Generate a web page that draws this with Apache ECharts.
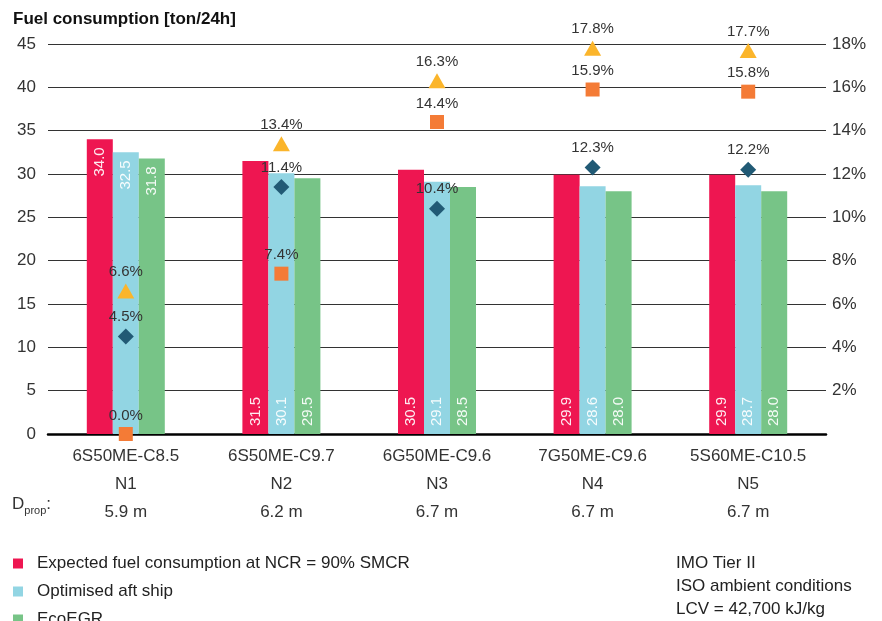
<!DOCTYPE html>
<html>
<head>
<meta charset="utf-8">
<script src="https://cdn.jsdelivr.net/npm/echarts@6/dist/echarts.min.js"></script>
<style>
  html, body { margin: 0; padding: 0; background: #fff; }
  #main { width: 882px; height: 621px; }
</style>
</head>
<body>
<div id="main"></div>
<script>
// engines and propeller diameters
var engines = ['6S50ME-C8.5', '6S50ME-C9.7', '6G50ME-C9.6', '7G50ME-C9.6', '5S60ME-C10.5'];
var nodes = ['N1', 'N2', 'N3', 'N4', 'N5'];
var dprop = ['5.9 m', '6.2 m', '6.7 m', '6.7 m', '6.7 m'];

// fuel consumption, ton/24h
var expected = [34.0, 31.5, 30.5, 29.9, 29.9];
var optimised = [32.5, 30.1, 29.1, 28.6, 28.7];
var ecoegr = [31.8, 29.5, 28.5, 28.0, 28.0];

// reductions, % (right axis)
var redTriangle = [6.6, 13.4, 16.3, 17.8, 17.7];
var redSquare = [0.0, 7.4, 14.4, 15.9, 15.8];
var redDiamond = [4.5, 11.4, 10.4, 12.3, 12.2];

var legendNames = ['Expected fuel consumption at NCR = 90% SMCR', 'Optimised aft ship', 'EcoEGR'];

var FONT = 'Liberation Sans, Arial, sans-serif';
var categories = engines.map(function (e, i) { return e + '\n' + nodes[i] + '\n' + dprop[i]; });

// first group has its values at the top of the bar, the rest at the bottom
function barData(arr) {
    return arr.map(function (v, i) {
        if (i === 0) {
            return { value: v, label: { position: 'insideTop', align: 'right', distance: 8 } };
        }
        return v;
    });
}

function barSeries(name, arr, color) {
    return {
        name: name,
        type: 'bar',
        data: barData(arr),
        barWidth: 26,
        barGap: '0%',
        itemStyle: { color: color },
        label: {
            show: true,
            rotate: 90,
            position: 'insideBottom',
            align: 'left',
            verticalAlign: 'middle',
            distance: 8,
            color: 'rgba(255,255,255,0.92)',
            fontFamily: FONT,
            fontSize: 15,
            formatter: function (p) { return p.value.toFixed(1); }
        }
    };
}

function markerSeries(name, arr, symbol, size, color) {
    return {
        name: name,
        type: 'scatter',
        yAxisIndex: 1,
        data: arr,
        symbol: symbol,
        symbolSize: size,
        itemStyle: { color: color, opacity: 1 },
        z: 5,
        label: {
            show: true,
            position: 'top',
            distance: 4,
            color: '#333',
            fontFamily: FONT,
            fontSize: 15,
            formatter: function (p) { return p.value.toFixed(1) + '%'; }
        }
    };
}

// one legend per row so the last one can run off the bottom edge
var legends = legendNames.map(function (n, i) {
    return {
        data: [n],
        left: 13,
        top: 555 + i * 28,
        padding: 0,
        itemWidth: 10,
        itemHeight: 10,
        icon: 'rect',
        textStyle: { fontFamily: FONT, fontSize: 17, color: '#222', padding: [0, 0, 0, 9] }
    };
});

var myChart = echarts.init(document.getElementById('main'));
myChart.setOption({
    animation: false,
    textStyle: { fontFamily: FONT },
    title: {
        text: 'Fuel consumption [ton/24h]',
        left: 8,
        top: 6,
        textStyle: { fontFamily: FONT, fontSize: 17, fontWeight: 'bold', color: '#111' }
    },
    legend: legends,
    grid: { left: 48, right: 56, top: 44, bottom: 187 },
    xAxis: {
        type: 'category',
        data: categories,
        axisTick: { show: false },
        axisLine: { lineStyle: { color: '#000', width: 2.5 } },
        axisLabel: {
            margin: 8,
            lineHeight: 28,
            fontFamily: FONT,
            fontSize: 17,
            color: '#333'
        }
    },
    yAxis: [{
        type: 'value',
        min: 0,
        max: 45,
        interval: 5,
        axisLine: { show: false },
        axisTick: { show: false },
        axisLabel: { fontFamily: FONT, fontSize: 17, color: '#333', margin: 12 },
        splitLine: { lineStyle: { color: '#333', width: 1 } }
    }, {
        type: 'value',
        min: 0,
        max: 18,
        interval: 2,
        axisLine: { show: false },
        axisTick: { show: false },
        splitLine: { show: false },
        axisLabel: {
            fontFamily: FONT, fontSize: 17, color: '#333', margin: 6,
            formatter: function (v) { return v === 0 ? '' : v + '%'; }
        }
    }],
    graphic: [{
        type: 'text',
        left: 12,
        top: 496,
        style: {
            text: '{d|D}{s|prop}{d|:}',
            rich: {
                d: { fontFamily: FONT, fontSize: 17, fill: '#333' },
                s: { fontFamily: FONT, fontSize: 11, fill: '#333', padding: [12, 0, 0, 0] }
            }
        }
    }, {
        type: 'text',
        left: 676,
        top: 552,
        style: {
            text: 'IMO Tier II\nISO ambient conditions\nLCV = 42,700 kJ/kg',
            fontFamily: FONT,
            fontSize: 17,
            lineHeight: 23,
            fill: '#222'
        }
    }],
    series: [
        barSeries(legendNames[0], expected, '#EE1651'),
        barSeries(legendNames[1], optimised, '#92D5E3'),
        barSeries(legendNames[2], ecoegr, '#77C487'),
        markerSeries('triangle', redTriangle, 'triangle', [17, 15], '#FBB52B'),
        markerSeries('square', redSquare, 'rect', [14, 14], '#F47B36'),
        markerSeries('diamond', redDiamond, 'diamond', [16, 16], '#215A75')
    ]
});
</script>
</body>
</html>
